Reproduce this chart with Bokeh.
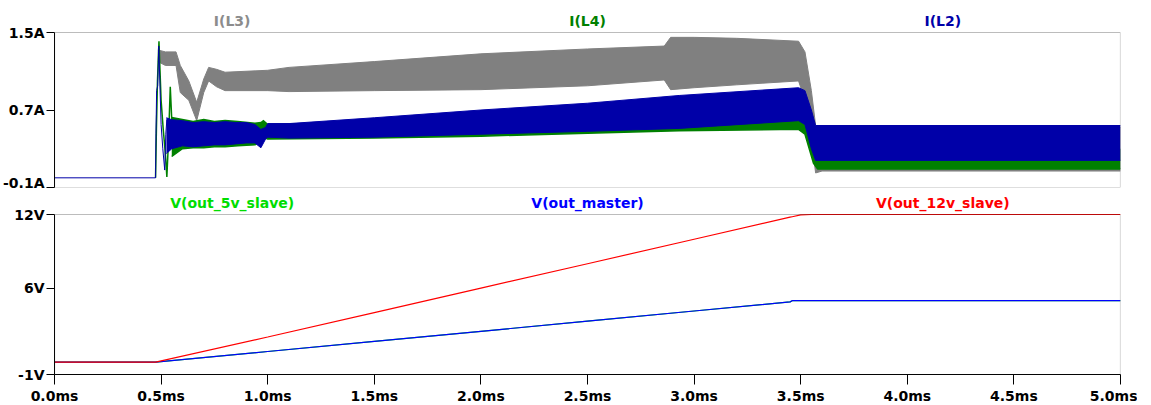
from bokeh.plotting import figure
from bokeh.layouts import column
from bokeh.models import Label, FixedTicker, PrintfTickFormatter, Range1d, BoxAnnotation
from bokeh.embed import file_html
from bokeh.resources import INLINE

# ---------------- data (time in ms) ----------------
# I(L3) envelope (gray)
l3_t  = [0.485, 0.52, 0.57, 0.59, 0.63, 0.667, 0.70, 0.723, 0.76, 0.80, 1.00, 1.10, 1.50, 2.00, 2.50, 2.86, 2.89, 3.00, 3.20, 3.49, 3.52, 3.55, 3.57, 3.60, 5.00]
l3_hi = [1.32, 1.30, 1.30, 1.16, 1.00, 0.78, 1.02, 1.14, 1.12, 1.09, 1.11, 1.14, 1.20, 1.28, 1.33, 1.36, 1.45, 1.45, 1.44, 1.41, 1.30, 0.90, 0.54, 0.52, 0.52]
l3_lo = [1.20, 1.16, 1.16, 0.88, 0.80, 0.59, 0.88, 1.00, 0.94, 0.90, 0.90, 0.89, 0.90, 0.91, 0.95, 1.01, 0.91, 0.93, 0.96, 1.00, 0.80, 0.40, 0.05, 0.07, 0.07]

# I(L4) startup transient (green)
l4_tr_t = [0.474, 0.478, 0.483, 0.490, 0.495, 0.500, 0.510, 0.520, 0.527, 0.535, 0.543, 0.550, 0.556]
l4_tr_v = [0.00, 0.50, 1.00, 1.41, 1.10, 0.80, 0.50, 0.25, 0.01, 0.40, 0.94, 0.60, 0.45]
# I(L4) envelope
l4_t  = [0.55, 0.60, 0.65, 0.70, 0.75, 0.80, 0.86, 0.94, 0.968, 0.98, 1.00, 1.50, 2.00, 2.50, 2.93, 3.49, 3.52, 3.56, 3.58, 5.00]
l4_hi = [0.63, 0.61, 0.59, 0.61, 0.59, 0.60, 0.59, 0.57, 0.58, 0.60, 0.56, 0.58, 0.62, 0.66, 0.70, 0.75, 0.70, 0.40, 0.30, 0.30]
l4_lo = [0.22, 0.30, 0.31, 0.31, 0.32, 0.32, 0.33, 0.34, 0.38, 0.42, 0.40, 0.41, 0.43, 0.46, 0.485, 0.50, 0.45, 0.15, 0.09, 0.09]

# I(L2) startup transient (blue)
l2_tr_t = [0.0, 0.474, 0.476, 0.479, 0.484, 0.489, 0.494, 0.500, 0.508, 0.517, 0.522, 0.527]
l2_tr_v = [0.0, 0.0, 0.46, 0.90, 0.95, 1.36, 1.00, 0.55, 0.30, 0.08, 0.45, 0.60]
# I(L2) envelope
l2_t  = [0.525, 0.55, 0.60, 0.65, 0.70, 0.75, 0.80, 0.85, 0.90, 0.94, 0.968, 0.99, 1.00, 1.10, 1.50, 2.00, 2.50, 2.93, 3.49, 3.52, 3.55, 3.57, 5.00]
l2_hi = [0.62, 0.60, 0.59, 0.57, 0.58, 0.57, 0.58, 0.57, 0.57, 0.55, 0.50, 0.52, 0.56, 0.56, 0.62, 0.70, 0.77, 0.85, 0.93, 0.90, 0.70, 0.54, 0.54]
l2_lo = [0.25, 0.30, 0.33, 0.32, 0.33, 0.34, 0.34, 0.35, 0.36, 0.36, 0.31, 0.40, 0.42, 0.41, 0.42, 0.45, 0.48, 0.51, 0.59, 0.55, 0.30, 0.18, 0.18]

# voltages
v_t      = [0.0, 0.474, 1.0, 1.5, 2.0, 2.5, 3.0, 3.45, 3.46, 3.5, 3.55, 5.0]
v_12v    = [0.0, 0.0, 2.05, 4.03, 6.02, 8.00, 9.99, 11.78, 11.82, 11.97, 12.0, 12.0]
v_master = [0.0, 0.0, 0.87, 1.69, 2.51, 3.33, 4.16, 4.90, 5.00, 5.00, 5.00, 5.00]
v_5v     = [0.0, 0.0, 0.87, 1.69, 2.51, 3.33, 4.16, 4.90, 5.00, 5.00, 5.00, 5.00]

i_ticks = [-0.1, 0.7, 1.5]
v_ticks = [-1, 6, 12]
t_ticks = [0.0, 0.5, 1.0, 1.5, 2.0, 2.5, 3.0, 3.5, 4.0, 4.5, 5.0]

FONT = "DejaVu Sans"
FS = "14px"

def style(p):
    p.grid.visible = False
    p.outline_line_color = None
    p.background_fill_color = "white"
    p.border_fill_color = "white"
    for ax in p.axis:
        ax.axis_line_color = "black"
        ax.major_tick_line_color = "black"
        ax.minor_tick_line_color = None
        ax.major_tick_in = 0
        ax.major_label_text_font = FONT
        ax.major_label_text_font_style = "bold"
        ax.major_label_text_font_size = FS
        ax.major_label_text_color = "black"

# top panel: 155 px for 1.6 A, plus 32 px of title space inside the frame
I_PX = 155 / 1.6
top = figure(frame_width=1066, frame_height=155 + 32, min_border_left=49, min_border_right=22,
             min_border_top=0, min_border_bottom=3, x_range=Range1d(0, 5),
             y_range=Range1d(-0.1, 1.5 + 32 / I_PX),
             output_backend="svg", toolbar_location=None)
top.xaxis.visible = False
top.yaxis.ticker = FixedTicker(ticks=i_ticks)
top.yaxis.formatter = PrintfTickFormatter(format="%.1fA")
top.yaxis.major_tick_out = 8
top.yaxis.major_label_standoff = 2
top.yaxis.bounds = (-0.1, 1.5)
style(top)

GRAY = "#808080"
GREEN = "#008000"
DBLUE = "#0000a8"

top.varea(x=l3_t, y1=l3_lo, y2=l3_hi, color=GRAY)
top.line(l3_t, l3_hi, color=GRAY, line_width=1)
top.line(l3_t, l3_lo, color=GRAY, line_width=1)

top.varea(x=l4_t, y1=l4_lo, y2=l4_hi, color=GREEN)
top.line(l4_t, l4_lo, color=GREEN, line_width=1.5)
top.line(l4_tr_t, l4_tr_v, color=GREEN, line_width=1.5)

top.varea(x=l2_t, y1=l2_lo, y2=l2_hi, color=DBLUE)
top.line(l2_t, l2_hi, color=DBLUE, line_width=1)
top.line(l2_t, l2_lo, color=DBLUE, line_width=1)
top.line(l2_tr_t, l2_tr_v, color=DBLUE, line_width=1)

top.add_layout(BoxAnnotation(left=0, right=5, bottom=-0.1, top=1.5, fill_alpha=0,
                             line_color="#202020", line_width=1.2))

for x, txt, col in [(5/6, "I(L3)", "#8c8c8c"), (2.5, "I(L4)", GREEN), (25/6, "I(L2)", DBLUE)]:
    top.add_layout(Label(x=x, y=1.5 + 12 / I_PX, text=txt, text_color=col, text_font=FONT,
                         text_font_style="bold", text_font_size=FS, text_align="center",
                         text_baseline="middle"))

# bottom panel: 160 px for 13 V, plus 24 px of title space inside the frame
V_PX = 160 / 13
bot = figure(frame_width=1066, frame_height=160 + 24, min_border_left=49, min_border_right=22,
             min_border_top=0, min_border_bottom=27, x_range=top.x_range,
             y_range=Range1d(-1, 12 + 24 / V_PX),
             output_backend="svg", toolbar_location=None)
bot.yaxis.ticker = FixedTicker(ticks=v_ticks)
bot.yaxis.formatter = PrintfTickFormatter(format="%dV")
bot.yaxis.major_tick_out = 8
bot.yaxis.major_label_standoff = 2
bot.yaxis.bounds = (-1, 12)
bot.xaxis.ticker = FixedTicker(ticks=t_ticks)
bot.xaxis.formatter = PrintfTickFormatter(format="%.1fms")
bot.xaxis.major_tick_out = 10
bot.xaxis.major_label_standoff = 3
style(bot)

bot.line(v_t, v_5v, color="#00e000", line_width=1.2)
bot.line(v_t, v_master, color="#0000ff", line_width=1.2)
bot.line(v_t, v_12v, color="#ff0000", line_width=1.2)

bot.add_layout(BoxAnnotation(left=0, right=5, bottom=-1, top=12, fill_alpha=0,
                             line_color="#202020", line_width=1.2))

for x, txt, col in [(5/6, "V(out_5v_slave)", "#00dd00"), (2.5, "V(out_master)", "#0000ff"),
                    (25/6, "V(out_12v_slave)", "#ff0000")]:
    bot.add_layout(Label(x=x, y=12 + 12 / V_PX, text=txt, text_color=col, text_font=FONT,
                         text_font_style="bold", text_font_size=FS, text_align="center",
                         text_baseline="middle"))

layout = column(top, bot, spacing=0)
open("out.html", "w").write(file_html(layout, INLINE))
